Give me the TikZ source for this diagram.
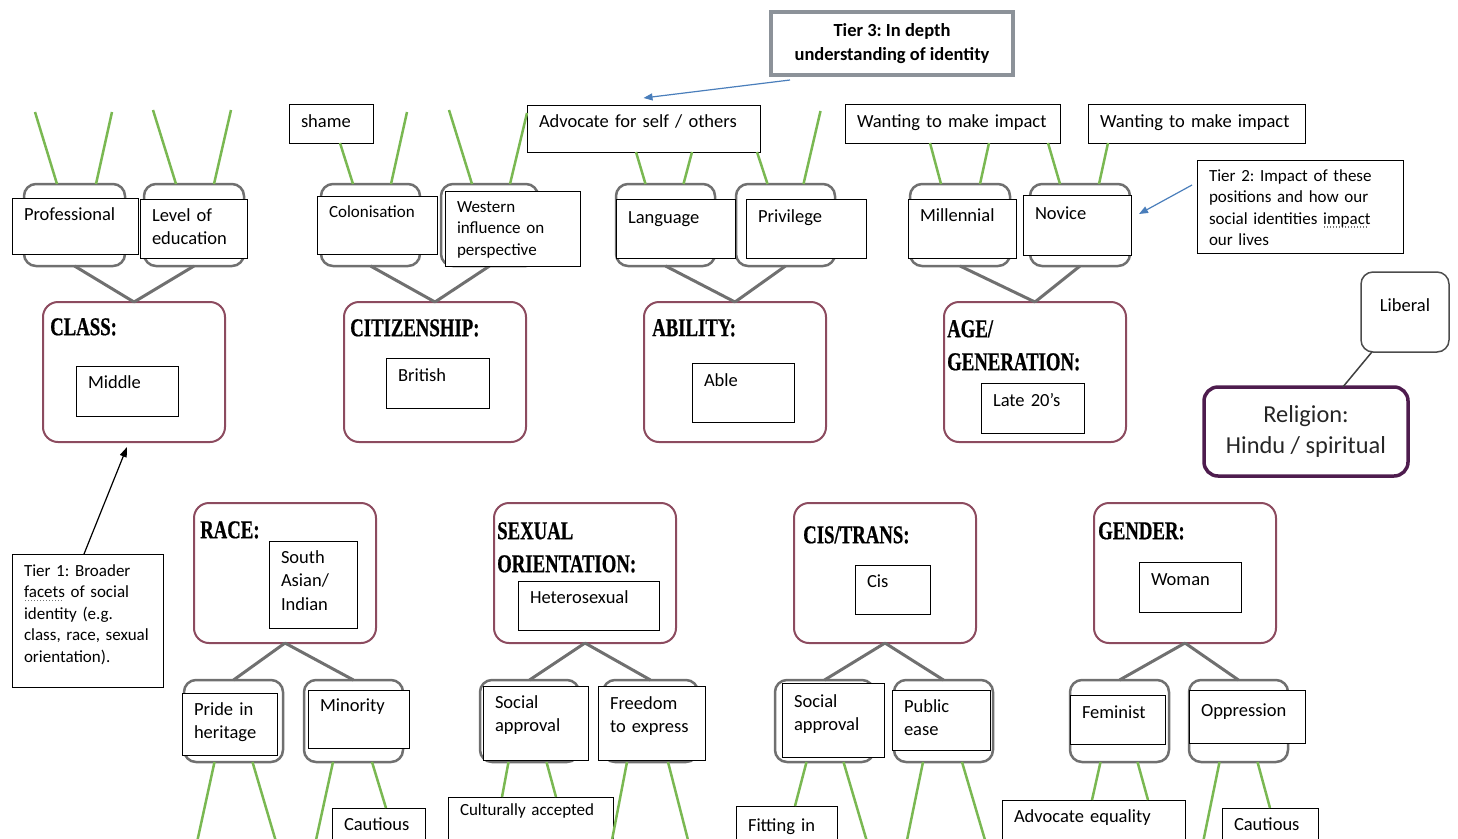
\documentclass[tikz,border=0pt]{standalone}
\usepackage{fontspec}
\setmainfont{Carlito}
\newfontfamily\headfont[FakeStretch=0.73,FakeBold=0.6]{Liberation Serif}
\usetikzlibrary{arrows.meta}

\definecolor{facetrose}{RGB}{140,75,95}
\definecolor{impactgrey}{RGB}{112,112,112}
\definecolor{twiggreen}{RGB}{122,184,82}
\definecolor{pointerblue}{RGB}{74,126,187}
\definecolor{tierframe}{RGB}{140,146,153}
\definecolor{faithpurple}{RGB}{78,28,78}

\newcommand{\labelfont}{\fontsize{18.5}{23.5}\selectfont}
\newcommand{\notefont}{\fontsize{17}{21.6}\selectfont}
\newcommand{\facetfont}{\headfont\bfseries\fontsize{25.7}{33}\selectfont}
\newcommand{\faithfont}{\fontsize{24.4}{31}\selectfont}
\newsavebox{\dotulbox}
\newcommand{\dotul}[1]{\leavevmode\sbox{\dotulbox}{#1}\rlap{\raisebox{-3.5pt}{\makebox[\wd\dotulbox][l]{\leaders\hbox to 3pt{\hss\textcolor{black!55}{\rule{1.3pt}{1.3pt}}\hss}\hfill}}}\usebox{\dotulbox}}
\hyphenpenalty=10000
\frenchspacing

\tikzset{
  facet/.style={draw=facetrose, line width=2pt, rounded corners=15pt, anchor=north west,
    outer sep=0pt, inner sep=0pt, minimum width=182pt, minimum height=140pt},
  impact/.style={draw=impactgrey, line width=2.5pt, rounded corners=12pt, anchor=north west,
    outer sep=0pt, inner sep=0pt, minimum width=99pt, minimum height=82pt},
  facethead/.style={anchor=north west, inner sep=0pt, align=left, font=\facetfont},
  note/.style={draw, line width=1pt, fill=white, anchor=north west, outer sep=0pt,
    inner xsep=12pt, inner ysep=5pt, align=left, font=\labelfont},
  dims/.style n args={3}{text width=#1pt-24pt, text height=#3pt, text depth=#2pt-10pt-#3pt},
  twig/.style={draw=twiggreen, line width=2.5pt},
  stem/.style={draw=impactgrey, line width=3pt},
  pointer/.style={draw=pointerblue, line width=1.2pt, -{Triangle[length=9pt,width=7pt]}},
  tierarrow/.style={draw=black, line width=1.2pt, -{Triangle[length=10pt,width=7pt]}}
}

\begin{document}
\frenchspacing
\begin{tikzpicture}[x=1pt,y=-1pt]
  \useasboundingbox (0,0) rectangle (1458,838);
  \clip (0,0) rectangle (1458,838);

  % broad facets
  \node[facet] (class) at (43,302) {};
  \node[facet] (citizen) at (344,302) {};
  \node[facet] (ability) at (644,302) {};
  \node[facet] (agegen) at (944,302) {};
  \node[facet] (race) at (194,503) {};
  \node[facet] (sexorient) at (494,503) {};
  \node[facet] (cistrans) at (794,503) {};
  \node[facet] (gender) at (1094,503) {};

  \node[facethead] (classhd) at (50,318) {CLASS:};
  \node[facethead] (citizenhd) at (350,319) {CITIZENSHIP:};
  \node[facethead] (abilityhd) at (652,319) {ABILITY:};
  \node[facethead] (agegenhd) at (947,320) {AGE/\\GENERATION:};
  \node[facethead] (racehd) at (200,521) {RACE:};
  \node[facethead] (sexorienthd) at (497,522) {SEXUAL\\ORIENTATION:};
  \node[facethead] (cistranshd) at (803,526) {CIS/TRANS:};
  \node[facethead] (genderhd) at (1098,522) {GENDER:};

  \node[note, dims={102}{50}{17}] (middle) at (76,366) {Middle};
  \node[note, dims={103}{50}{18}] (british) at (386,358) {British};
  \node[note, dims={102}{59}{18}] (able) at (692,363) {Able};
  \node[note, dims={103}{50}{18}] (late) at (981,383) {Late 20’s};
  \node[note, dims={88}{87}{17}] (southasian) at (269,541) {South\\Asian/\\Indian};
  \node[note, dims={141}{49}{17}] (hetero) at (518,581) {Heterosexual};
  \node[note, dims={75}{49}{17}] (cis) at (855,565) {Cis};
  \node[note, dims={102}{50}{18}] (woman) at (1139,562) {Woman};

  % impact of positions
  \node[impact, minimum width=101pt] (classA) at (24,184) {};
  \node[impact, minimum width=100pt] (classB) at (144,184) {};
  \node[impact] (citizenA) at (321,184) {};
  \node[impact, minimum width=97pt] (citizenB) at (441,184) {};
  \node[impact] (abilityA) at (616,184) {};
  \node[impact] (abilityB) at (736,184) {};
  \node[impact, minimum width=100pt] (agegenA) at (910,184) {};
  \node[impact, minimum width=100pt] (agegenB) at (1030,184) {};
  \node[impact] (raceA) at (184,680) {};
  \node[impact] (raceB) at (304,680) {};
  \node[impact] (sexorientA) at (480,680) {};
  \node[impact, minimum width=95pt] (sexorientB) at (603,680) {};
  \node[impact] (cistransA) at (775,680) {};
  \node[impact] (cistransB) at (894,680) {};
  \node[impact] (genderA) at (1070,680) {};
  \node[impact] (genderB) at (1189,680) {};

  \draw[stem] (classA.south) -- (class.north);
  \draw[stem] (classB.south) -- (class.north);
  \draw[stem] (citizenA.south) -- (citizen.north);
  \draw[stem] (citizenB.south) -- (citizen.north);
  \draw[stem] (abilityA.south) -- (ability.north);
  \draw[stem] (abilityB.south) -- (ability.north);
  \draw[stem] (agegenA.south) -- (agegen.north);
  \draw[stem] (agegenB.south) -- (agegen.north);
  \draw[stem] (race.south) -- (raceA.north);
  \draw[stem] (race.south) -- (raceB.north);
  \draw[stem] (sexorient.south) -- (sexorientA.north);
  \draw[stem] (sexorient.south) -- (sexorientB.north);
  \draw[stem] (cistrans.south) -- (cistransA.north);
  \draw[stem] (cistrans.south) -- (cistransB.north);
  \draw[stem] (gender.south) -- (genderA.north);
  \draw[stem] (gender.south) -- (genderB.north);

  \node[note, dims={126}{56}{17}] (professional) at (12,198) {Professional};
  \node[note, dims={107}{59}{17}] (leveledu) at (140,199) {Level of\\education};
  \node[note, font=\notefont, dims={120}{58}{16}] (colonisation) at (317,196) {Colonisation};
  \node[note, font=\notefont, dims={135}{75}{16}] (western) at (445,191) {Western\\influence on\\perspective};
  \node[note, dims={119}{59}{19}] (language) at (616,199) {Language};
  \node[note, dims={120}{59}{18}] (privilege) at (746,199) {Privilege};
  \node[note, dims={108}{59}{17}] (millennial) at (908,199) {Millennial};
  \node[note, dims={108}{60}{19}] (novice) at (1023,195) {Novice};
  \node[note, dims={95}{62}{17}] (pride) at (182,693) {Pride in\\heritage};
  \node[note, dims={101}{58}{16}] (minority) at (308,690) {Minority};
  \node[note, dims={105}{74}{17}] (socialA) at (483,686) {Social\\approval};
  \node[note, dims={107}{74}{18}] (freedom) at (598,686) {Freedom\\to express};
  \node[note, dims={102}{74}{19}] (socialB) at (782,683) {Social\\approval};
  \node[note, dims={98}{60}{17}] (publicease) at (892,690) {Public\\ease};
  \node[note, dims={95}{49}{18}] (feminist) at (1070,695) {Feminist};
  \node[note, dims={116}{53}{21}] (oppression) at (1189,690) {Oppression};

  % in depth understanding
  \node[note, dims={84}{39}{18}] (shame) at (289,104) {shame};
  \node[note, dims={233}{47}{17}] (advself) at (527,105) {Advocate for self / others};
  \node[note, dims={215}{39}{18}] (wantingA) at (845,104) {Wanting to make impact};
  \node[note, dims={217}{39}{18}] (wantingB) at (1088,104) {Wanting to make impact};
  \node[note, font=\notefont, dims={165}{60}{13}] (culturally) at (448,797) {Culturally accepted};
  \node[note, dims={93}{60}{17}] (cautiousA) at (332,808) {Cautious};
  \node[note, dims={101}{60}{20}] (fittingin) at (736,806) {Fitting in};
  \node[note, dims={183}{60}{17}] (adveq) at (1002,800) {Advocate equality};
  \node[note, dims={96}{60}{17}] (cautiousB) at (1222,808) {Cautious};

  \draw[twig] ([xshift=-17.5pt]classA.north) -- ++(-22,-72);
  \draw[twig] ([xshift=21.5pt]classA.north) -- ++(16,-72);
  \draw[twig] ([xshift=-18pt]classB.north) -- ++(-23,-74);
  \draw[twig] ([xshift=20pt]classB.north) -- ++(17,-74);
  \draw[twig] ([xshift=-17.5pt]citizenA.north) -- ([xshift=9pt]shame.south);
  \draw[twig] ([xshift=20.5pt]citizenA.north) -- ++(16,-72);
  \draw[twig] ([xshift=-17.5pt]citizenB.north) -- ++(-23,-74);
  \draw[twig] ([xshift=20.5pt]citizenB.north) -- ++(17,-71);
  \draw[twig] ([xshift=-20pt]abilityA.north) -- ([xshift=-7.5pt]advself.south);
  \draw[twig] ([xshift=18pt]abilityA.north) -- ([xshift=48.5pt]advself.south);
  \draw[twig] ([xshift=-18pt]abilityB.north) -- ([xshift=113.5pt]advself.south);
  \draw[twig] ([xshift=18pt]abilityB.north) -- ++(17,-73);
  \draw[twig] ([xshift=-19pt]agegenA.north) -- ([xshift=-22.5pt]wantingA.south);
  \draw[twig] ([xshift=20pt]agegenA.north) -- ([xshift=36.5pt]wantingA.south);
  \draw[twig] ([xshift=-20pt]agegenB.north) -- ([xshift=95.5pt]wantingA.south);
  \draw[twig] ([xshift=19pt]agegenB.north) -- ([xshift=-88.5pt]wantingB.south);
  \draw[twig] ([xshift=-19pt]raceA.south) -- ++(-17,78);
  \draw[twig] ([xshift=19pt]raceA.south) -- ++(23,78);
  \draw[twig] ([xshift=-20.5pt]raceB.south) -- ++(-17,78);
  \draw[twig] ([xshift=18.5pt]raceB.south) -- ([xshift=7.5pt]cautiousA.north);
  \draw[twig] ([xshift=-21pt]sexorientA.south) -- ([xshift=-28.5pt]culturally.north);
  \draw[twig] ([xshift=17pt]sexorientA.south) -- ([xshift=25.5pt]culturally.north);
  \draw[twig] ([xshift=-23.5pt]sexorientB.south) -- ++(-15,78);
  \draw[twig] ([xshift=17.5pt]sexorientB.south) -- ++(20,78);
  \draw[twig] ([xshift=-18pt]cistransA.south) -- ([xshift=8.5pt]fittingin.north);
  \draw[twig] ([xshift=19pt]cistransA.south) -- ++(23,78);
  \draw[twig] ([xshift=-20.5pt]cistransB.south) -- ++(-16,78);
  \draw[twig] ([xshift=18.5pt]cistransB.south) -- ++(23,78);
  \draw[twig] ([xshift=-19pt]genderA.south) -- ([xshift=-1.5pt]adveq.north);
  \draw[twig] ([xshift=18pt]genderA.south) -- ([xshift=54.5pt]adveq.north);
  \draw[twig] ([xshift=-19pt]genderB.south) -- ++(-16,78);
  \draw[twig] ([xshift=19pt]genderB.south) -- (cautiousB.north);

  % religion
  \node[draw=faithpurple, line width=3.5pt, rounded corners=14pt, anchor=north west, outer sep=0pt,
    minimum width=204pt, minimum height=89pt, align=center, font=\faithfont, text=black!85]
    (religion) at (1204,387) {Religion:\\Hindu / spiritual};
  \node[draw=black!70, line width=1.5pt, rounded corners=12pt, anchor=north west, outer sep=0pt,
    inner xsep=12pt, inner ysep=5pt, align=center, font=\labelfont, dims={88}{80}{34}]
    (liberal) at (1361,272) {Liberal};
  \draw[black!75, line width=1.5pt] (religion) -- (liberal);

  % tiers
  \node[draw=tierframe, line width=3.5pt, anchor=north west, outer sep=0pt, minimum width=242pt,
    minimum height=63pt, align=center, font=\labelfont\bfseries, fill=white]
    (tier3) at (771,12) {Tier 3: In depth\\understanding of identity};
  \node[note, font=\notefont, dims={206}{93}{16}] (tier2) at (1197,160)
    {Tier 2: Impact of these\\positions and how our\\social identities \dotul{impact}\\our lives};
  \node[note, font=\notefont, dims={151}{133}{17}] (tier1) at (12,554)
    {Tier 1: Broader\\\dotul{facets} of social\\identity (e.g.\\class, race, sexual\\orientation).};

  \draw[pointer] ([shift={(19pt,-5pt)}]tier3.south west) -- ([yshift=7pt]advself.north);
  \draw[pointer] ([shift={(-5pt,-25pt)}]tier2.north west) -- ([shift={(8pt,11pt)}]novice.east);
  \draw[tierarrow] ([xshift=-3.5pt]tier1.north) -- ([shift={(-7pt,-5pt)}]class.south);
\end{tikzpicture}
\end{document}
